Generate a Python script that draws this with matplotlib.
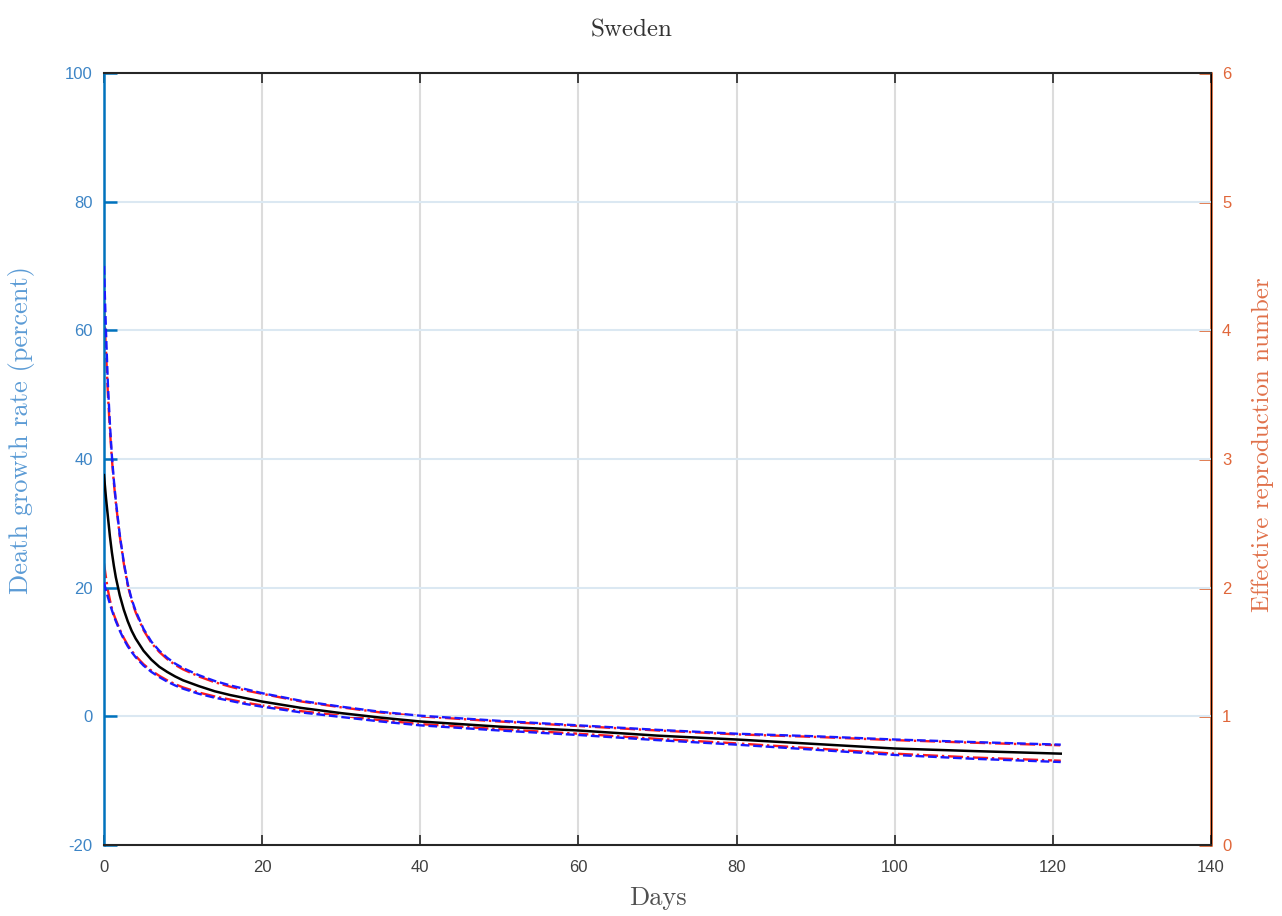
import matplotlib
matplotlib.use('Agg')
import matplotlib.pyplot as plt

# ========== data ==========
days = [0, 0.25, 0.5, 0.75, 1, 1.25, 1.5, 2, 2.5, 3, 3.5, 4, 5, 6, 7, 8, 9,
        10, 12, 14, 16, 18, 20, 25, 30, 35, 40, 50, 60, 70, 80, 90, 100, 110, 121]

# death growth rate (percent), left axis
growth_mid = [37.5, 34, 31, 28, 25.5, 23.4, 21.6, 18.8, 16.6, 14.8, 13.3, 12.1,
              10.2, 8.8, 7.7, 6.9, 6.2, 5.6, 4.7, 3.9, 3.3, 2.8, 2.3, 1.3, 0.5,
              -0.2, -0.8, -1.6, -2.2, -3.0, -3.6, -4.3, -5.0, -5.4, -5.8]
growth_hi = [70, 60, 51.5, 45.5, 40.5, 36.7, 33.5, 28.2, 24, 20.6, 18.2, 16.4,
             13.6, 11.6, 10.2, 9.1, 8.2, 7.5, 6.4, 5.5, 4.8, 4.2, 3.6, 2.4, 1.5,
             0.7, 0.1, -0.7, -1.4, -2.1, -2.7, -3.1, -3.6, -4.0, -4.4]
growth_lo = [20.8, 19.6, 18.5, 17.5, 16.5, 15.6, 14.8, 13.3, 12.0, 10.9, 10.0,
             9.2, 7.9, 6.9, 6.1, 5.4, 4.8, 4.3, 3.5, 2.9, 2.4, 1.9, 1.5, 0.6,
             -0.1, -0.8, -1.4, -2.2, -2.9, -3.7, -4.4, -5.2, -6.0, -6.6, -7.1]

# effective reproduction number, right axis
reff_hi = [4.175, 3.85, 3.5, 3.225, 3.0, 2.815, 2.66, 2.4, 2.19, 2.02, 1.9, 1.81,
           1.67, 1.57, 1.5, 1.445, 1.4, 1.365, 1.31, 1.265, 1.23, 1.2, 1.175,
           1.115, 1.07, 1.03, 1.0, 0.96, 0.925, 0.89, 0.86, 0.84, 0.815, 0.795,
           0.775]
reff_lo = [2.19, 2.08, 1.98, 1.905, 1.84, 1.79, 1.75, 1.675, 1.61, 1.555, 1.51,
           1.47, 1.405, 1.355, 1.315, 1.28, 1.25, 1.225, 1.185, 1.155, 1.13,
           1.105, 1.085, 1.04, 1.005, 0.97, 0.94, 0.9, 0.865, 0.825, 0.79, 0.75,
           0.71, 0.68, 0.655]

x_ticks = [0, 20, 40, 60, 80, 100, 120, 140]
left_ticks = [-20, 0, 20, 40, 60, 80, 100]
right_ticks = [0, 1, 2, 3, 4, 5, 6]

# ========== style ==========
BLUE = '#0072BD'
ORANGE = '#D95319'
TICK_FONT = ['Liberation Sans Narrow', 'Liberation Sans', 'DejaVu Sans']
SERIF = ['cmr10', 'DejaVu Serif']
plt.rcParams['axes.unicode_minus'] = False

fig = plt.figure(figsize=(12.82, 9.16), dpi=100)
ax = fig.add_axes([0.0811, 0.0775, 0.8635, 0.8428])
ax2 = ax.twinx()

ax.plot(days, growth_hi, '--', color='#1a1aff', lw=1.7, zorder=3)
ax.plot(days, growth_lo, '--', color='#1a1aff', lw=1.7, zorder=3)
ax2.plot(days, reff_hi, '-.', color='#ff1a1a', lw=1.7, zorder=3)
ax2.plot(days, reff_lo, '-.', color='#ff1a1a', lw=1.7, zorder=3)
ax.plot(days, growth_mid, '-', color='black', lw=1.8, zorder=4)
ax.set_zorder(ax2.get_zorder() + 1)
ax.patch.set_visible(False)

ax.set_xlim(0, 140)
ax.set_ylim(-20, 100)
ax2.set_ylim(0, 6)
ax.set_xticks(x_ticks)
ax.set_yticks(left_ticks)
ax2.set_yticks(right_ticks)

# grid: vertical gray, horizontal light blue
for xt in x_ticks[1:-1]:
    ax.axvline(xt, color='#dcdcdc', lw=1.5, zorder=0)
for yt in left_ticks[1:-1]:
    ax.axhline(yt, color='#dbe8f2', lw=1.5, zorder=0)

for s in ['top', 'bottom']:
    ax.spines[s].set_color('#262626')
    ax.spines[s].set_linewidth(1.5)
ax.spines['left'].set_color(BLUE)
ax.spines['left'].set_linewidth(1.8)
ax2.spines['right'].set_color(ORANGE)
ax2.spines['right'].set_linewidth(1.8)
ax2.spines['left'].set_visible(False)
ax2.spines['top'].set_visible(False)
ax2.spines['bottom'].set_visible(False)

ax.tick_params(axis='x', direction='in', length=7, width=1.2, color='#262626',
               labelcolor='#404040', labelsize=12, top=True, pad=11)
ax.tick_params(axis='y', direction='in', length=9, width=1.8, color=BLUE,
               labelcolor='#3d85c6', labelsize=12, pad=8)
ax2.tick_params(axis='y', direction='in', length=9, width=1.8, color=ORANGE,
                labelcolor='#e0673a', labelsize=12, pad=8)
for lab in ax.get_xticklabels() + ax.get_yticklabels() + ax2.get_yticklabels():
    lab.set_fontfamily(TICK_FONT)

ax.set_xlabel('Days', fontsize=19, family=SERIF, color='#505050', labelpad=8)
ax.set_ylabel('Death growth rate (percent)', fontsize=19, family=SERIF,
              color='#5b9bd5')
ax.yaxis.set_label_coords(-0.062, 0.537)
ax2.set_ylabel('Effective reproduction number', fontsize=18, family=SERIF,
               color='#e0714a')
ax2.yaxis.set_label_coords(1.037, 0.518)
fig.text(632 / 1282, 1 - 30 / 916, 'Sweden', fontsize=18, family=SERIF,
         color='#333333', ha='center', va='center')

fig.savefig('out.png', dpi=100)
plt.close(fig)
